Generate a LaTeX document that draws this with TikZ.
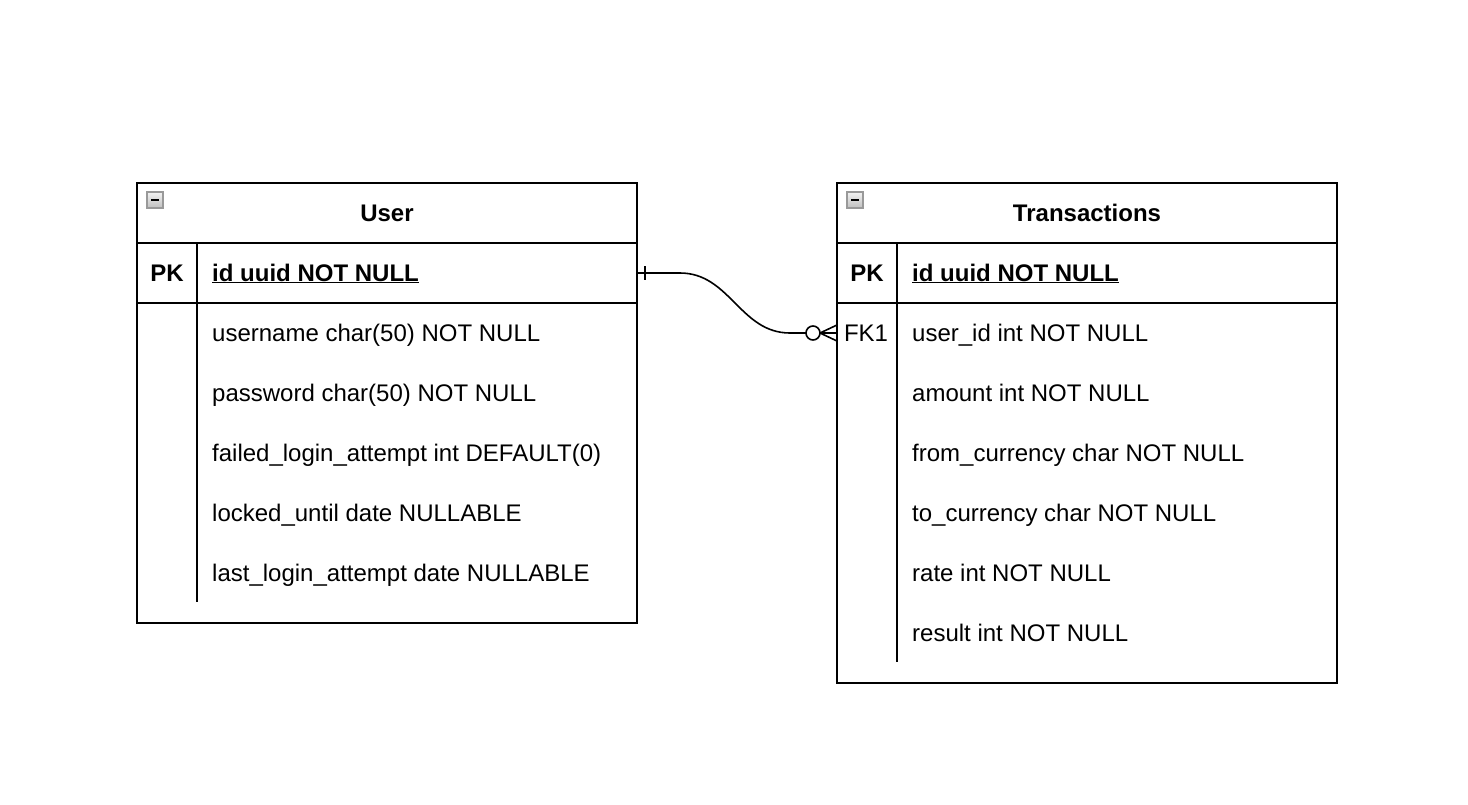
\documentclass[tikz,border=0pt]{standalone}
\usepackage{fontspec}
\setmainfont{Liberation Sans}
\usetikzlibrary{positioning}
\newcommand{\erfont}{\fontsize{24}{29}\selectfont}

\begin{document}
\begin{tikzpicture}[
  x=1pt, y=-1pt,
  tbl/.style={draw, line width=1.6pt, minimum width=500pt, minimum height=60pt, inner sep=0pt, outer sep=0pt, font=\erfont\bfseries},
  keycol/.style={anchor=base, font=\erfont\bfseries, inner sep=0pt},
  fld/.style={anchor=base west, inner sep=0pt, font=\erfont},
  pkfld/.style={anchor=base west, inner sep=0pt, font=\erfont\bfseries},
  icon/.style={draw=gray!80, line width=1.2pt, top color=gray!10, bottom color=gray!50, minimum size=16pt, inner sep=0pt},
  rel/.style={line width=1.6pt}
]
\useasboundingbox (0,0) rectangle (1468,804);

% User table
\node[tbl] (uhead) at (387,213) {User};
\node[tbl, below=0pt of uhead] (urow) {};
\node[tbl, below=0pt of urow, minimum height=320pt] (ubody) {};
\node[icon] (uicon) at (155,200) {};
\draw[line width=1.6pt] ([xshift=-4pt]uicon.center) -- ([xshift=4pt]uicon.center);
\draw[line width=1.6pt] ([xshift=60pt]urow.north west) -- ([xshift=60pt,yshift=21pt]ubody.south west);
\node[keycol] (upk) at (167,281) {PK};
\node[pkfld] (uid) at (212,281) {\underline{id uuid NOT NULL}};
\node[fld] (uname) at (212,341) {username char(50) NOT NULL};
\node[fld] (upass) at (212,401) {password char(50) NOT NULL};
\node[fld] (ufail) at (212,461) {failed\_login\_attempt int DEFAULT(0)};
\node[fld] (ulock) at (212,521) {locked\_until date NULLABLE};
\node[fld] (ulast) at (212,581) {last\_login\_attempt date NULLABLE};

% Transactions table
\node[tbl] (thead) at (1087,213) {Transactions};
\node[tbl, below=0pt of thead] (trow) {};
\node[tbl, below=0pt of trow, minimum height=380pt] (tbody) {};
\node[icon] (ticon) at (855,200) {};
\draw[line width=1.6pt] ([xshift=-4pt]ticon.center) -- ([xshift=4pt]ticon.center);
\draw[line width=1.6pt] ([xshift=60pt]trow.north west) -- ([xshift=60pt,yshift=21pt]tbody.south west);
\node[keycol] (tpk) at (867,281) {PK};
\node[pkfld] (tid) at (912,281) {\underline{id uuid NOT NULL}};
\node[keycol, font=\erfont] (tfk) at (866,341) {FK1};
\node[fld] (tuser) at (912,341) {user\_id int NOT NULL};
\node[fld] (tamount) at (912,401) {amount int NOT NULL};
\node[fld] (tfrom) at (912,461) {from\_currency char NOT NULL};
\node[fld] (tto) at (912,521) {to\_currency char NOT NULL};
\node[fld] (trate) at (912,581) {rate int NOT NULL};
\node[fld] (tres) at (912,641) {result int NOT NULL};

% relation: one User to many Transactions
\coordinate (tfkin) at ([yshift=-30pt]tbody.north west);
\coordinate (ua) at ([xshift=43pt]urow.east);
\coordinate (tb) at ([xshift=-47pt]tfkin);
\coordinate (crow) at ([xshift=-17pt]tfkin);
\draw[rel] (urow.east) -- (ua) .. controls ([xshift=50pt]ua) and ([xshift=-50pt]tb) .. (tb) -- ([xshift=-31pt]tfkin);
\draw[rel] ([xshift=8pt,yshift=7pt]urow.east) -- ([xshift=8pt,yshift=-7pt]urow.east);
\draw[rel] ([xshift=-24pt]tfkin) circle (7);
\draw[rel] (crow) -- ([yshift=8pt]tfkin);
\draw[rel] (crow) -- (tfkin);
\draw[rel] (crow) -- ([yshift=-8pt]tfkin);
\end{tikzpicture}
\end{document}
